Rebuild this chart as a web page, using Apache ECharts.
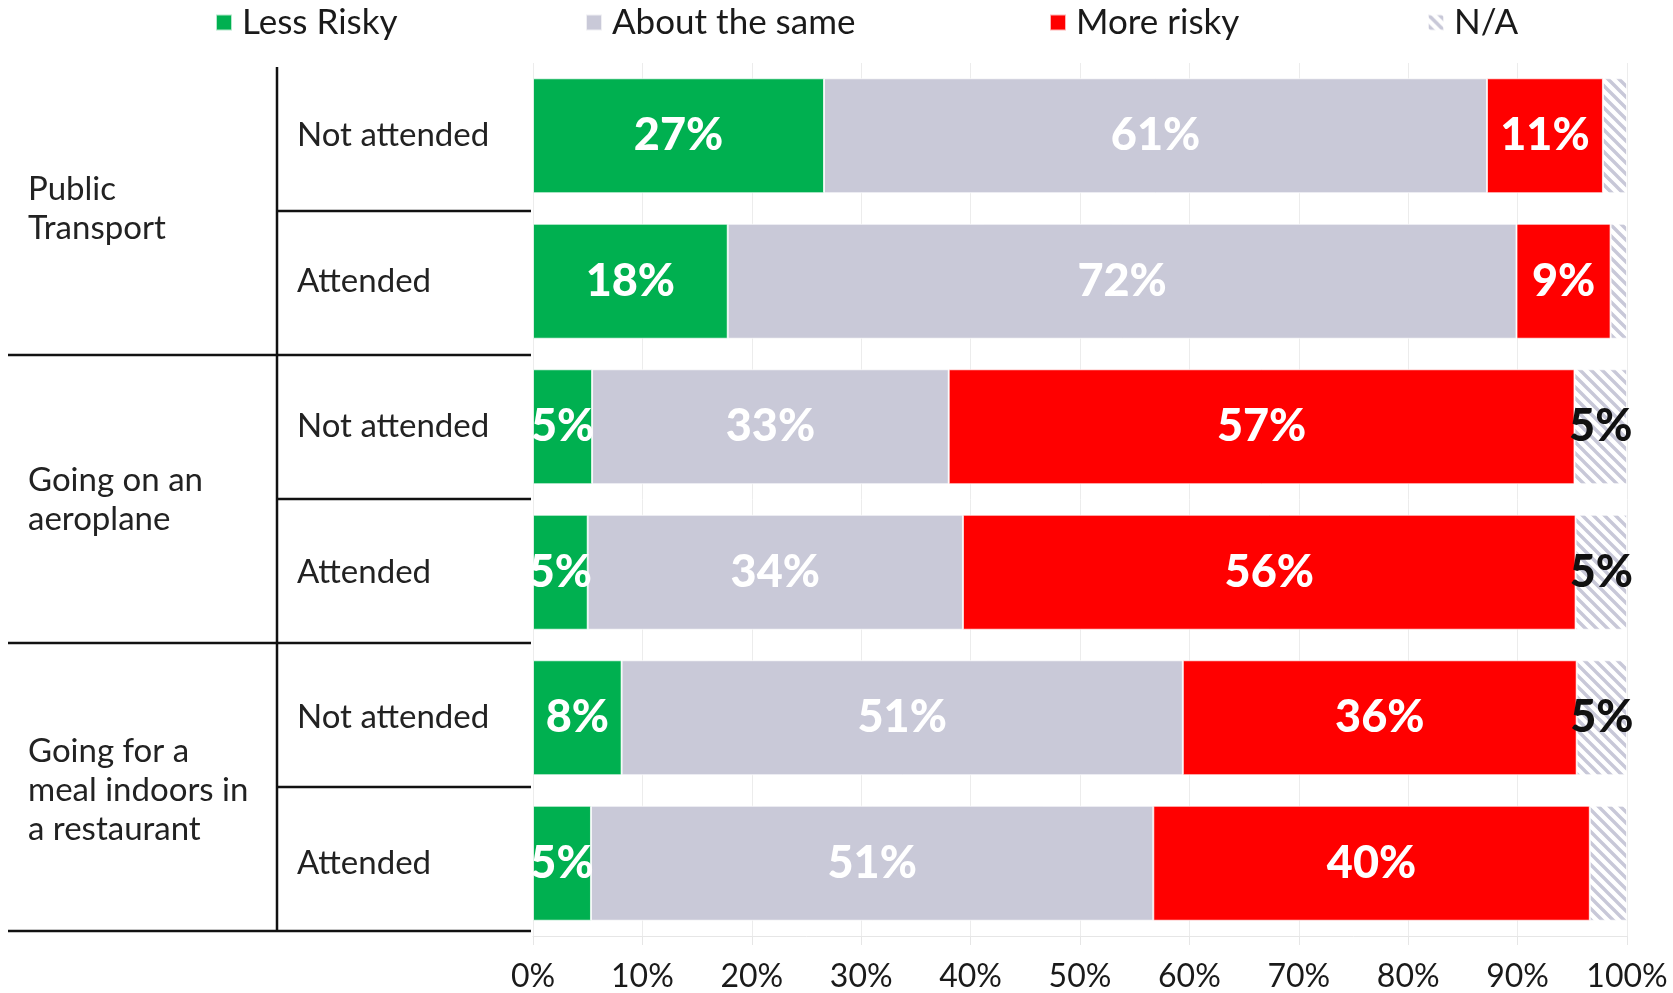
<!DOCTYPE html>
<html><head><meta charset="utf-8">
<script src="https://cdn.jsdelivr.net/npm/echarts@6/dist/echarts.min.js"></script>
<style>html,body{margin:0;padding:0;background:#fff}#c{width:1673px;height:993px}</style>
</head><body><div id="c"></div>
<script>
// ---- data ----
const rowLabels = ['Not attended', 'Attended', 'Not attended', 'Attended', 'Not attended', 'Attended'];
const groupLabels = ['Public\nTransport', 'Going on an\naeroplane', 'Going for a\nmeal indoors in\na restaurant'];
const seriesNames = ['Less Risky', 'About the same', 'More risky', 'N/A'];
const lessRisky = [26.6, 17.8, 5.4, 5.0, 8.1, 5.3];
const aboutSame = [60.6, 72.1, 32.6, 34.3, 51.3, 51.4];
const moreRisky = [10.6, 8.6, 57.2, 56.0, 36.0, 39.9];
const notAvail  = [2.2, 1.5, 4.8, 4.7, 4.6, 3.4];
const xTicks = [0, 10, 20, 30, 40, 50, 60, 70, 80, 90, 100];

// ---- layout constants ----
const GRID_LEFT = 533, GRID_RIGHT = 46, GRID_TOP = 63, GRID_BOTTOM = 56;
const FONT = 'Lato, "Noto Sans", sans-serif';

// striped pattern for N/A
const pat = document.createElement('canvas');
const P = 11;
pat.width = P; pat.height = P;
(function(){
  const g = pat.getContext('2d');
  g.fillStyle = '#ffffff'; g.fillRect(0,0,P,P);
  g.strokeStyle = '#c8c8d8'; g.lineWidth = 3.4;
  g.beginPath();
  g.moveTo(-P, 0); g.lineTo(P, 2*P);
  g.moveTo(0, 0); g.lineTo(P, P);
  g.moveTo(0, -P); g.lineTo(2*P, P);
  g.stroke();
})();

const colors = ['#00b050', '#c9c9d8', '#ff0000', {image: pat, repeat: 'repeat'}];
const values = [lessRisky, aboutSame, moreRisky, notAvail];
const rowKeys = rowLabels.map((r, i) => i + '|' + r);

const chart = echarts.init(document.getElementById('c'), null, {renderer: 'canvas'});

const legendLefts = [215, 585, 1049, 1427];
const legends = seriesNames.map((n, i) => ({
  data: [n], left: legendLefts[i], top: 5, padding: 0, itemGap: 0,
  icon: 'rect', itemWidth: 16, itemHeight: 16, selectedMode: false,
  textStyle: {fontFamily: FONT, fontSize: 35, color: '#1a1a1a', padding: [0, 0, 0, 5]}
}));

const series = seriesNames.map((n, i) => ({
  name: n, type: 'bar', stack: 'total', yAxisIndex: 0,
  barCategoryGap: '21%',
  data: values[i],
  itemStyle: {color: colors[i], borderColor: 'rgba(255,255,255,0.7)', borderWidth: 1},
  label: {
    show: true, position: 'inside',
    fontFamily: FONT, fontWeight: 900, fontSize: 45,
    color: i === 3 ? '#111111' : '#ffffff',
    formatter: p => (i === 3 && p.value < 4) ? '' : Math.round(p.value) + '%'
  },
  emphasis: {disabled: true}
}));

// table lines (decoration)
const TABLE_TOP = 67, TABLE_BOTTOM = 931, VX = 277, LX0 = 8, LX1 = 531;
const rowH = (TABLE_BOTTOM - TABLE_TOP) / rowLabels.length;
const graphics = [{type: 'line', shape: {x1: VX, y1: TABLE_TOP, x2: VX, y2: TABLE_BOTTOM}, style: {stroke: '#111', lineWidth: 2.5}}];
for (let k = 1; k <= rowLabels.length; k++) {
  const y = TABLE_TOP + k * rowH;
  const isGroup = (k % 2 === 0);
  graphics.push({type: 'line', shape: {x1: isGroup ? LX0 : VX, y1: y, x2: LX1, y2: y}, style: {stroke: '#111', lineWidth: 2.5}});
}

chart.setOption({
  animation: false,
  backgroundColor: '#ffffff',
  legend: legends,
  grid: {left: GRID_LEFT, right: GRID_RIGHT, top: GRID_TOP, bottom: GRID_BOTTOM, containLabel: false},
  xAxis: {
    type: 'value', min: xTicks[0], max: xTicks[xTicks.length - 1], interval: xTicks[1] - xTicks[0],
    axisLine: {show: true, lineStyle: {color: '#e6e6e6', width: 1}},
    axisTick: {show: true, length: 9, lineStyle: {color: '#e6e6e6'}},
    splitLine: {show: true, lineStyle: {color: '#ececec', width: 1}},
    axisLabel: {formatter: '{value}%', fontFamily: FONT, fontSize: 32, color: '#1a1a1a', margin: 25}
  },
  yAxis: [{
    type: 'category', data: rowKeys, inverse: true, position: 'left',
    axisLine: {show: false}, axisTick: {show: false}, splitLine: {show: false},
    axisLabel: {formatter: v => v.split('|')[1], align: 'left', margin: GRID_LEFT - 297,
      padding: [6, 0, 0, 0],
      fontFamily: FONT, fontSize: 33, color: '#222222'}
  }, {
    type: 'category', data: groupLabels, inverse: true, position: 'left',
    axisLine: {show: false}, axisTick: {show: false}, splitLine: {show: false},
    axisLabel: {align: 'left', margin: GRID_LEFT - 28, lineHeight: 39,
      fontFamily: FONT, fontSize: 33, color: '#222222'}
  }],
  series: series,
  graphic: graphics
});
</script>
</body></html>
